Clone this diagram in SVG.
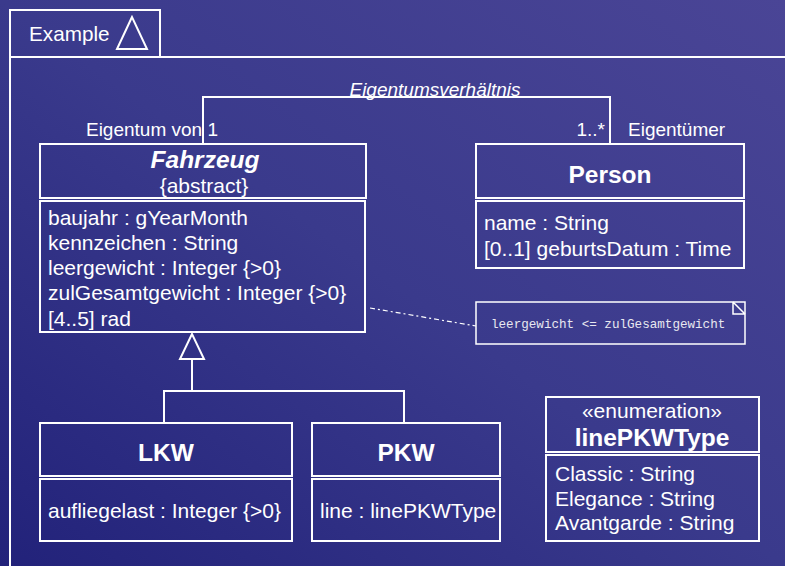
<svg xmlns="http://www.w3.org/2000/svg" width="785" height="566" viewBox="0 0 785 566">
<defs>
<linearGradient id="bg" x1="0" y1="1" x2="1" y2="0">
<stop offset="0" stop-color="#22227a"/>
<stop offset="0.5" stop-color="#3a3a8c"/>
<stop offset="1" stop-color="#4a4596"/>
</linearGradient>
<style>
.ln{fill:none;stroke:#fff;stroke-width:2}
.t{font-family:"Liberation Sans",Arial,sans-serif;fill:#fff}
.attr{font-size:21px}
.title{font-size:24.5px;font-weight:bold;text-anchor:middle}
.role{font-size:19px}
.mono{font-family:"Liberation Mono","Courier New",monospace;font-size:12.6px;fill:#e8e8f0}
</style>
</defs>
<rect width="785" height="566" fill="url(#bg)"/>

<g id="frame">
<path class="ln" d="M10,566 V10 H160 V57 M10,57 H785"/>
<text class="t" x="29" y="41" font-size="20.7">Example</text>
<polygon class="ln" points="132,17 117,49 147,49"/>
</g>

<g id="connectors">
<polyline class="ln" points="203,144 203,97 610,97 610,144"/>
<text class="t role" x="435" y="96" text-anchor="middle" font-style="italic">Eigentumsverhältnis</text>
<text class="t role" x="218" y="136" text-anchor="end">Eigentum von 1</text>
<text class="t role" x="605" y="136" text-anchor="end">1..*</text>
<text class="t role" x="628" y="136">Eigentümer</text>
<polygon class="ln" points="192,334 180,359 204,359"/>
<polyline class="ln" points="192,359 192,391"/>
<polyline class="ln" points="164,423 164,391 404,391 404,423"/>
<line x1="370" y1="308" x2="476" y2="326" stroke="#fff" stroke-width="1.2" stroke-dasharray="5,3,2,3"/>
</g>

<g id="Fahrzeug">
<rect class="ln" x="40" y="144" width="326" height="54"/>
<rect class="ln" x="40" y="201" width="325" height="131"/>
<text class="t title" x="205" y="168" font-style="italic">Fahrzeug</text>
<text class="t" x="204" y="193" font-size="21" text-anchor="middle">{abstract}</text>
<text class="t attr" x="48" y="225">baujahr : gYearMonth</text>
<text class="t attr" x="48" y="250">kennzeichen : String</text>
<text class="t attr" x="48" y="275">leergewicht : Integer {&gt;0}</text>
<text class="t attr" x="48" y="300">zulGesamtgewicht : Integer {&gt;0}</text>
<text class="t attr" x="48" y="326">[4..5] rad</text>
</g>

<g id="Person">
<rect class="ln" x="476" y="144" width="268" height="54"/>
<rect class="ln" x="476" y="201" width="268" height="67"/>
<text class="t title" x="610" y="183">Person</text>
<text class="t attr" x="484" y="230">name : String</text>
<text class="t attr" x="484" y="256">[0..1] geburtsDatum : Time</text>
</g>

<g id="note">
<rect x="476" y="302" width="269" height="42" fill="none" stroke="#fff" stroke-width="1.5"/>
<path d="M733,302 V314 H745 M733,302 L745,314" fill="none" stroke="#fff" stroke-width="1.5"/>
<text class="mono" x="491" y="328">leergewicht &lt;= zulGesamtgewicht</text>
</g>

<g id="LKW">
<rect class="ln" x="40" y="423" width="252" height="53"/>
<rect class="ln" x="40" y="479" width="252" height="62"/>
<text class="t title" x="166" y="461">LKW</text>
<text class="t attr" x="48" y="518">aufliegelast : Integer {&gt;0}</text>
</g>

<g id="PKW">
<rect class="ln" x="312" y="423" width="188" height="53"/>
<rect class="ln" x="312" y="479" width="188" height="62"/>
<text class="t title" x="406" y="461">PKW</text>
<text class="t attr" x="320" y="518">line : linePKWType</text>
</g>

<g id="linePKWType">
<rect class="ln" x="546" y="397" width="213" height="55"/>
<rect class="ln" x="546" y="455" width="213" height="86"/>
<text class="t" x="652" y="418" font-size="21" text-anchor="middle">«enumeration»</text>
<text class="t title" x="652" y="446">linePKWType</text>
<text class="t attr" x="555" y="481">Classic : String</text>
<text class="t attr" x="555" y="506">Elegance : String</text>
<text class="t attr" x="555" y="530">Avantgarde : String</text>
</g>
</svg>
